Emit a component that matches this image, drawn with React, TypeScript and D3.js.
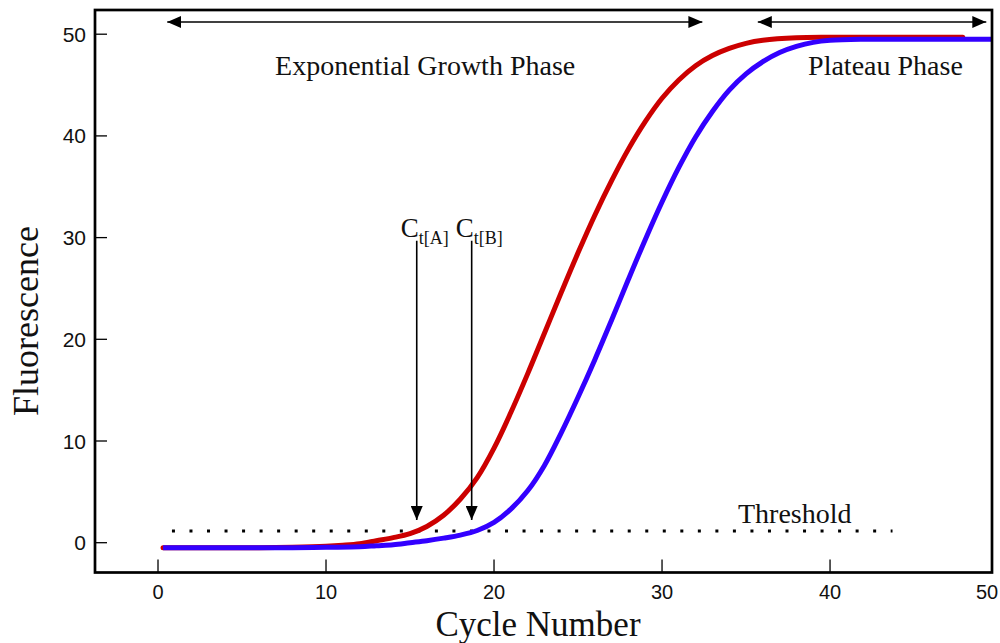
import React from 'react'
import * as d3 from 'd3'

// readings
const redCycles = [0.3, 2, 4, 6, 8, 10, 11, 12, 13, 14, 15, 16, 17, 18, 19, 20, 21, 22, 23, 24, 25, 26, 27, 28, 29, 30, 31, 32, 33, 34, 35, 36, 38, 40, 44, 47.9]
const redValues = [-0.5, -0.5, -0.5, -0.5, -0.45, -0.35, -0.25, -0.1, 0.2, 0.5, 0.9, 1.6, 2.7, 4.3, 6.4, 9.3, 12.8, 16.6, 20.6, 24.6, 28.5, 32.2, 35.6, 38.7, 41.4, 43.7, 45.5, 46.9, 47.9, 48.6, 49.1, 49.4, 49.65, 49.7, 49.7, 49.7]

const blueCycles = [0.3, 2, 4, 6, 8, 10, 12, 13, 14, 15, 16, 17, 18, 19, 20, 21, 22, 23, 24, 25, 26, 27, 28, 29, 30, 31, 32, 33, 34, 35, 36, 37, 38, 39, 40, 42, 45, 49.64]
const blueValues = [-0.5, -0.5, -0.5, -0.5, -0.5, -0.45, -0.4, -0.3, -0.2, 0, 0.2, 0.45, 0.75, 1.2, 2.0, 3.3, 5.1, 7.6, 10.8, 14.3, 18.0, 21.9, 25.9, 29.8, 33.5, 36.9, 39.9, 42.4, 44.5, 46.1, 47.3, 48.2, 48.8, 49.2, 49.4, 49.5, 49.5, 49.5]

const xTicks = [0, 10, 20, 30, 40, 50]
const yTicks = [0, 10, 20, 30, 40, 50]

const threshold = 1.15
const thresholdFrom = 0.83
const thresholdTo = 43.6

const phaseLabels = ['Exponential Growth Phase', 'Plateau Phase']
const phaseStart = [0.55, 35.7]
const phaseEnd = [32.4, 49.3]
const phaseLabelAt = [15.9, 43.3]

const ctNames = ['A', 'B']
const ctCycles = [15.4, 18.67]

const W = 1000
const H = 643
const left = 95, right = 992, top = 10, bottom = 572.5

export default function App() {
  const x = d3.scaleLinear().domain([-3.75, 49.64]).range([left, right])
  const y = d3.scaleLinear().domain([-2.93, 52.38]).range([bottom, top])

  const line = d3.line<[number, number]>()
    .x(d => x(d[0]))
    .y(d => y(d[1]))
    .curve(d3.curveCatmullRom.alpha(0.5))

  const red = redCycles.map((c, i) => [c, redValues[i]] as [number, number])
  const blue = blueCycles.map((c, i) => [c, blueValues[i]] as [number, number])

  const serif = '"Liberation Serif", "Times New Roman", serif'
  const sans = '"Liberation Sans", Arial, sans-serif'

  const arrowY = y(51.2)
  const ctTop = y(29.7)
  const ctTip = y(2.23)

  return (
    <svg width={W} height={H} style={{ position: 'absolute', left: 0, top: 0, background: '#fff' }}>
      <defs>
        <marker id="head" viewBox="0 0 14 12" refX="14" refY="6" markerWidth="14" markerHeight="12"
          markerUnits="userSpaceOnUse" orient="auto-start-reverse">
          <path d="M0,0 L14,6 L0,12 Z" fill="#000" />
        </marker>
      </defs>

      {/* ticks, pointing in */}
      {yTicks.map(t => (
        <g key={'y' + t}>
          <line x1={left} x2={left + 12} y1={y(t)} y2={y(t)} stroke="#000" strokeWidth={1.3} />
          <text x={86} y={y(t)} dy="0.36em" textAnchor="end" fontFamily={sans} fontSize={21} fill="#111">{t}</text>
        </g>
      ))}
      {xTicks.map(t => (
        <g key={'x' + t}>
          {x(t) < right - 2 && (
            <line x1={x(t)} x2={x(t)} y1={bottom} y2={bottom - 13} stroke="#000" strokeWidth={1.3} />
          )}
          <text x={Math.min(x(t), 987)} y={599} textAnchor="middle" fontFamily={sans} fontSize={20} fill="#111">{t}</text>
        </g>
      ))}

      {/* threshold */}
      <line x1={x(thresholdFrom)} x2={x(thresholdTo) + 2} y1={y(threshold)} y2={y(threshold)}
        stroke="#000" strokeWidth={3} strokeDasharray="3 14.53" />
      <text x={x(37.9)} y={y(1.94)} textAnchor="middle" fontFamily={serif} fontSize={28} fill="#111">Threshold</text>

      {/* amplification curves */}
      <path d={line(red) ?? ''} fill="none" stroke="#cc0000" strokeWidth={5} strokeLinecap="round" />
      <path d={line(blue) ?? ''} fill="none" stroke="#3300ff" strokeWidth={5} strokeLinecap="butt" />

      {/* phase arrows */}
      {phaseLabels.map((lab, i) => (
        <g key={lab}>
          <line x1={x(phaseStart[i])} x2={x(phaseEnd[i])} y1={arrowY} y2={arrowY} stroke="#000" strokeWidth={1.6}
            markerStart="url(#head)" markerEnd="url(#head)" />
          <text x={x(phaseLabelAt[i])} y={y(46.0)} textAnchor="middle" fontFamily={serif} fontSize={28} fill="#111">{lab}</text>
        </g>
      ))}

      {/* Ct markers */}
      {ctNames.map((n, i) => (
        <g key={n}>
          <line x1={x(ctCycles[i])} x2={x(ctCycles[i])} y1={ctTop} y2={ctTip} stroke="#000" strokeWidth={1.6}
            markerEnd="url(#head)" />
          <text x={x(ctCycles[i]) - 16} y={237} fontFamily={serif} fontSize={27} fill="#111">
            C<tspan fontSize={18} dy={7}>{`t[${n}]`}</tspan>
          </text>
        </g>
      ))}

      {/* frame */}
      <rect x={left} y={top} width={right - left} height={bottom - top} fill="none" stroke="#000" strokeWidth={2.7} />

      {/* axis titles */}
      <text x={538} y={636} textAnchor="middle" fontFamily={serif} fontSize={35} fill="#111">Cycle Number</text>
      <text transform="translate(38,321) rotate(-90)" textAnchor="middle" fontFamily={serif} fontSize={36} fill="#111">Fluorescence</text>
    </svg>
  )
}
